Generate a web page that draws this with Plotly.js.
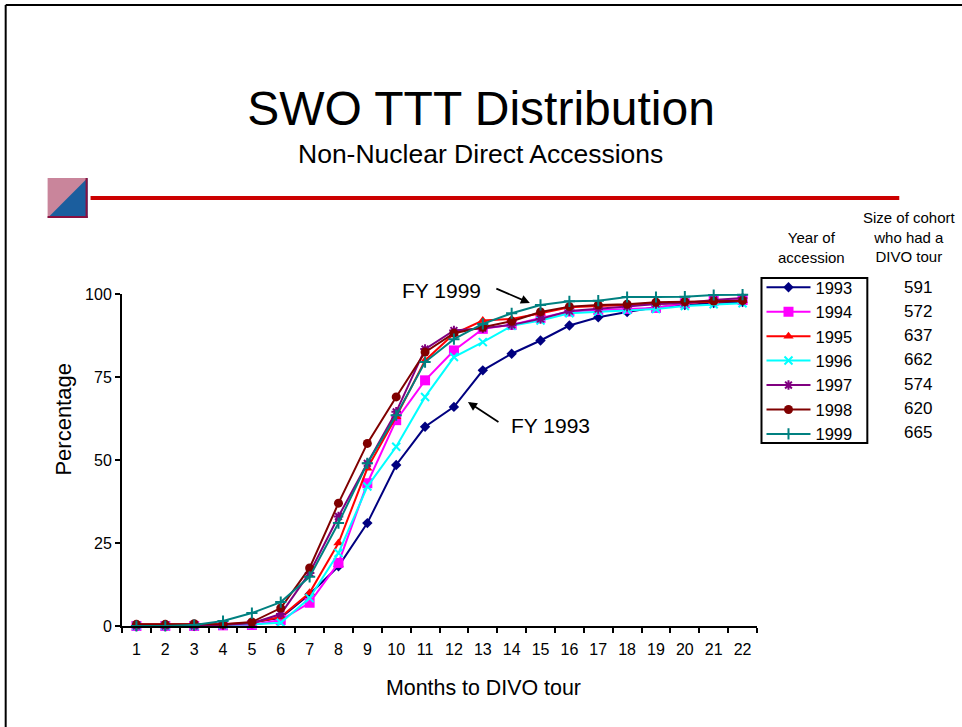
<!DOCTYPE html>
<html>
<head>
<meta charset="utf-8">
<script src="https://cdn.plot.ly/plotly-3.0.1.min.js"></script>
<style>
  html, body { margin: 0; padding: 0; background: #ffffff; }
  #chart { width: 962px; height: 727px; }
</style>
</head>
<body>
<div id="chart"></div>
<script>
// ---- data ----
const months = ["1","2","3","4","5","6","7","8","9","10","11","12","13","14","15","16","17","18","19","20","21","22"];
const years = ["1993","1994","1995","1996","1997","1998","1999"];
const cohortSizes = [591, 572, 637, 662, 574, 620, 665];

const s1993 = [0,0,0,0.3,1,2.5,9.6,18,31,48.5,60,66,77,82,86,90.5,93,94.6,96,96.7,97.3,97.6];
const s1994 = [0,0,0,0.2,0.3,1.8,7,19,43,62,74,83,89.5,90.7,92.8,94.7,95.2,95.5,95.8,97.2,98,98.2];
const s1995 = [0.5,0.5,0.5,0.5,1,2.7,10,25,47.5,63,80,88,92,92.5,94.2,96,96.4,96.7,97.2,97.5,97.7,98];
const s1996 = [0,0,0,0.3,0.5,1,8.4,22,42,54,69,81,85.5,90.4,92,94.2,94.7,95.2,95.5,96.4,96.9,97.2];
const s1997 = [0,0,0,0.3,0.8,3.6,16,33,49,64.5,83.4,89,89.7,90.7,92.5,94.9,95.5,96.2,97,97.3,98.2,98.8];
const s1998 = [0.5,0.5,0.7,0.5,1.2,5.4,17.5,37,55,69,82.5,88.2,90,91.8,94.6,96.2,96.7,96.9,97.5,97.7,97.9,98];
const s1999 = [0,0,0.3,1.5,3.9,7.2,14.8,31,49,63.5,79.5,86.4,91,94.2,96.7,97.8,98,99.1,99.1,99.2,99.7,99.8];

const seriesValues = [s1993, s1994, s1995, s1996, s1997, s1998, s1999];
const yTicks = [0, 25, 50, 75, 100];

// ---- styles ----
const colors = ["#000080", "#FF00FF", "#FF0000", "#00FFFF", "#800080", "#800000", "#008080"];
const symbols = ["diamond", "square", "triangle-up", "x-thin-open", "asterisk-open", "circle", "cross-thin-open"];
const sizes = [8, 10, 9, 8, 8, 9, 8];

const FONT = "Liberation Sans, Arial, Helvetica, sans-serif";

// plot area in pixels
const L = 121.5, R = 757.5, T = 294, B = 626, W = 962, H = 727;
const px = x => (x - L) / (R - L);
const py = y => (B - y) / (B - T);

const traces = years.map((yr, i) => ({
  type: "scatter",
  mode: "lines+markers",
  name: yr,
  x: months,
  y: seriesValues[i],
  cliponaxis: false,
  line: { color: colors[i], width: 2 },
  marker: {
    symbol: symbols[i],
    size: sizes[i],
    color: colors[i],
    line: { color: colors[i], width: (symbols[i].indexOf("open") >= 0) ? 2 : 0 }
  }
}));

const annotations = [
  { xref: "paper", yref: "paper", x: px(481), y: py(154), text: "Non-Nuclear Direct Accessions",
    showarrow: false, font: { family: FONT, size: 26.5, color: "#000" }, xanchor: "center", yanchor: "middle" },
  { xref: "paper", yref: "paper", x: px(442), y: py(290), text: "FY 1999",
    showarrow: false, font: { family: FONT, size: 21, color: "#000" }, xanchor: "center", yanchor: "middle" },
  { xref: "paper", yref: "paper", x: px(530), y: py(303), text: "", showarrow: true,
    ax: -35, ay: -15, arrowhead: 2, arrowsize: 1, arrowwidth: 1.8, arrowcolor: "#000" },
  { xref: "paper", yref: "paper", x: px(551), y: py(425), text: "FY 1993",
    showarrow: false, font: { family: FONT, size: 21, color: "#000" }, xanchor: "center", yanchor: "middle" },
  { xref: "paper", yref: "paper", x: px(468), y: py(402), text: "", showarrow: true,
    ax: 32, ay: 21, arrowhead: 2, arrowsize: 1, arrowwidth: 1.8, arrowcolor: "#000" },
  // axis titles (placed as in the reference, off-centre)
  { xref: "paper", yref: "paper", x: px(62), y: py(419), text: "Percentage", textangle: -90,
    showarrow: false, font: { family: FONT, size: 22, color: "#000" }, xanchor: "center", yanchor: "middle" },
  { xref: "paper", yref: "paper", x: px(484), y: py(688), text: "Months to DIVO tour",
    showarrow: false, font: { family: FONT, size: 21.4, color: "#000" }, xanchor: "center", yanchor: "middle" },
  // legend headers
  { xref: "paper", yref: "paper", x: px(812), y: py(247), text: "Year of<br>accession",
    showarrow: false, font: { family: FONT, size: 15, color: "#000" }, xanchor: "center", yanchor: "middle" },
  { xref: "paper", yref: "paper", x: px(910), y: py(237), text: "Size of cohort<br>who had a<br>DIVO tour",
    showarrow: false, font: { family: FONT, size: 15, color: "#000" }, xanchor: "center", yanchor: "middle" }
];
cohortSizes.forEach((n, i) => {
  annotations.push({
    xref: "paper", yref: "paper", x: px(919), y: py(287 + i * 24.33), text: String(n),
    showarrow: false, font: { family: FONT, size: 17, color: "#000" }, xanchor: "center", yanchor: "middle"
  });
});

const shapes = [
  // slide border (top and left)
  { type: "line", xref: "paper", yref: "paper", x0: px(5), x1: px(970), y0: py(5), y1: py(5),
    line: { color: "#000", width: 2 } },
  { type: "line", xref: "paper", yref: "paper", x0: px(5), x1: px(5), y0: py(5), y1: py(735),
    line: { color: "#000", width: 2 } },
  // red rule
  { type: "line", xref: "paper", yref: "paper", x0: px(90), x1: px(900), y0: py(198), y1: py(198),
    line: { color: "#CC0000", width: 4 } },
  // logo square
  { type: "rect", xref: "paper", yref: "paper", x0: px(47), x1: px(87), y0: py(218), y1: py(178),
    fillcolor: "#c9859b", line: { width: 0 } },
  { type: "path", xref: "paper", yref: "paper",
    path: "M" + px(87) + "," + py(178) + " L" + px(87) + "," + py(218) + " L" + px(47) + "," + py(218) + " Z",
    fillcolor: "#1b5e9e", line: { width: 0 } },
  { type: "line", xref: "paper", yref: "paper", x0: px(47), x1: px(87), y0: py(217), y1: py(217),
    line: { color: "#8a1040", width: 2 } },
  { type: "line", xref: "paper", yref: "paper", x0: px(86), x1: px(86), y0: py(178), y1: py(218),
    line: { color: "#8a1040", width: 2 } },
  // legend frame
  { type: "rect", xref: "paper", yref: "paper", x0: px(762), x1: px(868), y0: py(443), y1: py(278),
    line: { color: "#000", width: 2 }, fillcolor: "rgba(0,0,0,0)" }
];

const layout = {
  width: W, height: H,
  paper_bgcolor: "#ffffff", plot_bgcolor: "#ffffff",
  margin: { l: L, r: W - R, t: T, b: H - B, pad: 0 },
  font: { family: FONT, color: "#000" },
  title: {
    text: "SWO TTT Distribution",
    font: { family: FONT, size: 48, color: "#000" },
    x: 0.5, xref: "container", xanchor: "center",
    y: 1 - 108 / H, yref: "container", yanchor: "middle"
  },
  xaxis: {
    type: "category",
    range: [-0.5, months.length - 0.5],
    tickson: "boundaries",
    tickangle: 0,
    ticks: "outside", ticklen: 5, tickwidth: 2, tickcolor: "#000",
    ticklabelstandoff: 8,
    showline: true, linewidth: 2, linecolor: "#000",
    showgrid: false, zeroline: false,
    tickfont: { family: FONT, size: 16, color: "#000" },
    automargin: false
  },
  yaxis: {
    range: [0, 100],
    tickvals: yTicks, ticktext: yTicks.map(String),
    ticks: "outside", ticklen: 5, tickwidth: 2, tickcolor: "#000",
    showline: true, linewidth: 2, linecolor: "#000",
    showgrid: false, zeroline: false,
    tickfont: { family: FONT, size: 16, color: "#000" },
    automargin: false
  },
  showlegend: true,
  legend: {
    x: px(762), xanchor: "left", y: py(270), yanchor: "top",
    xref: "paper", yref: "paper",
    borderwidth: 0, bgcolor: "rgba(0,0,0,0)",
    font: { family: FONT, size: 16.5, color: "#000" },
    itemwidth: 44, tracegroupgap: 0
  },
  annotations: annotations,
  shapes: shapes
};

Plotly.newPlot("chart", traces, layout, { staticPlot: true, displayModeBar: false });
</script>
</body>
</html>
